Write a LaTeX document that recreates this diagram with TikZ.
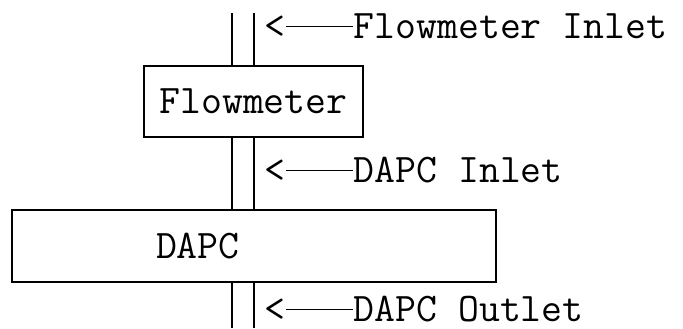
\documentclass[tikz,border=0pt]{standalone}
\begin{document}
\begin{tikzpicture}[
  x=0.5pt, y=-0.5pt, line width=0.7pt,
  unit/.style={draw, rectangle, inner sep=0pt, font=\ttfamily\fontsize{20.3}{22}\selectfont},
  tag/.style={inner sep=0pt, font=\ttfamily\fontsize{20.3}{22}\selectfont},
  pipe/.style={line width=0.7pt}
]
\useasboundingbox (0,0) rectangle (683,328);
\node[unit, minimum width=109.5pt, minimum height=35.5pt] (fm) at (253.5,101.5) {Flowmeter};
\node[unit, minimum width=242pt, minimum height=36pt, text width=242pt, align=left]
  (dapc) at (254,246) {\hspace*{72pt}DAPC};
\coordinate (pl) at (232,13);
\coordinate (pr) at (254,13);
\coordinate (bl) at (232,328);
\coordinate (br) at (254,328);
% pipe sections
\draw[pipe] (pl) -- (pl |- fm.north);  \draw[pipe] (pr) -- (pr |- fm.north);
\draw[pipe] (pl |- fm.south) -- (pl |- dapc.north);
\draw[pipe] (pr |- fm.south) -- (pr |- dapc.north);
\draw[pipe] (bl |- dapc.south) -- (bl);  \draw[pipe] (br |- dapc.south) -- (br);
% labels
\node[tag, anchor=base] (lt1) at (274.5,38) {<};
\node[tag, anchor=base west] (fmin) at (353,38) {Flowmeter Inlet};
\node[tag, anchor=base] (lt2) at (274.5,182) {<};
\node[tag, anchor=base west] (dpin) at (353,182) {DAPC Inlet};
\node[tag, anchor=base] (lt3) at (274.5,321) {<};
\node[tag, anchor=base west] (dpout) at (353,321) {DAPC Outlet};
\draw (lt1.east) -- (lt1.east -| fmin.west);
\draw (lt2.east) -- (lt2.east -| dpin.west);
\draw (lt3.east) -- (lt3.east -| dpout.west);
\end{tikzpicture}
\end{document}
